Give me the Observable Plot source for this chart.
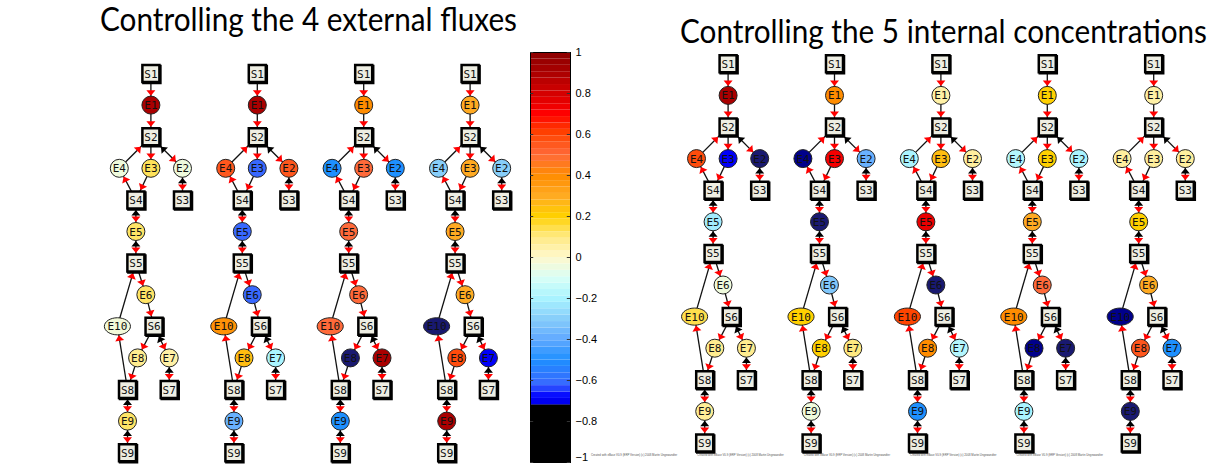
<!DOCTYPE html>
<html><head><meta charset="utf-8">
<script src="https://cdn.jsdelivr.net/npm/d3@7"></script>
<script src="https://cdn.jsdelivr.net/npm/@observablehq/plot@0.6"></script>
<style>
body{margin:0;background:#fff;width:1215px;height:464px;overflow:hidden;position:relative}
.panel{position:absolute;top:0}
.panel svg{display:block;overflow:visible}
.tbox{position:relative}
.title{position:absolute;white-space:nowrap;font-family:Lato,"DejaVu Sans",sans-serif;font-size:33px;line-height:1;color:#000;transform-origin:0 0}
</style></head><body>
<div id="left" class="panel" style="left:0;width:525px"></div>
<div id="bar" class="panel" style="left:520px;width:80px"></div>
<div id="right" class="panel" style="left:580px;width:635px"></div>
<script>
// ---------- data ----------
const enzymes = ["E1","E2","E3","E4","E5","E6","E7","E8","E9","E10"];
const metabolites = ["S1","S2","S3","S4","S5","S6","S7","S8","S9"];
// control coefficients, ordered E1..E10
const fluxControl1 = [0.9, -0.04, 0.13, -0.04, 0.12, 0.12, 0.05, 0.08, 0.12, -0.03];
const fluxControl2 = [0.9, 0.55, -0.62, 0.55, -0.62, -0.62, -0.2, 0.25, -0.38, 0.38];
const fluxControl3 = [0.4, -0.5, 0.5, -0.5, 0.5, 0.5, 0.9, -0.8, -0.5, 0.5];
const fluxControl4 = [0.3, -0.3, 0.3, -0.3, 0.3, 0.3, -0.69, 0.58, 0.9, -0.8];
const concControl1 = [0.9, -0.8, -0.69, 0.58, -0.22, -0.04, 0.08, 0.08, 0.07, 0.14];
const concControl2 = [0.4, -0.38, 0.72, -0.76, -0.8, -0.32, 0.1, 0.2, -0.04, 0.2];
const concControl3 = [0.05, 0.06, 0.25, -0.2, 0.75, -0.8, -0.18, 0.4, -0.5, 0.6];
const concControl4 = [0.2, -0.2, 0.2, -0.18, 0.3, 0.5, -0.8, -0.76, -0.2, 0.4];
const concControl5 = [0.05, 0.06, 0.06, 0.06, 0.2, 0.3, -0.5, 0.55, -0.8, -0.76];
// reactions: [from, to, reversible]
const edges = [
  ["S1","E1",false],["E1","S2",false],["S2","E3",false],["E3","S4",false],
  ["S4","E4",false],["E4","S2",false],["S2","E2",true],["E2","S3",true],
  ["S4","E5",true],["E5","S5",true],["S5","E6",false],["E6","S6",false],
  ["S8","E10",false],["E10","S5",false],["S6","E8",false],["E8","S8",false],
  ["S6","E7",true],["E7","S7",true],["S8","E9",true],["E9","S9",true]
];
const colorbarTicks = [1, 0.8, 0.6, 0.4, 0.2, 0, -0.2, -0.4, -0.6, -0.8, -1];
const leftTitle = "Controlling the 4 external fluxes";
const rightTitle = "Controlling the 5 internal concentrations";
const footerText = "Created with eBase V0.9 (ERP Version) (c) 2008 Martin Ungewandter";

// ---------- layout & style ----------
const nodeLayout = {S1:[0,0],E1:[0,1],S2:[0,2],E4:[-1,3],E3:[0,3],E2:[1,3],S4:[-0.475,4],S3:[1,4],
  E5:[-0.475,5],S5:[-0.475,6],E6:[-0.16,7],E10:[-1.06,8],S6:[0.1,8],E8:[-0.42,9],E7:[0.58,9],
  S8:[-0.74,10],S7:[0.58,10],E9:[-0.74,11],S9:[-0.74,12]};
const unit = 31.6;              // px per layout unit
const netSpacing = 106.4 / unit;
const clipLevel = -0.72;
const colorStops = [-1,-0.8,-0.76,-0.72,-0.68,-0.62,-0.5,-0.4,-0.3,-0.2,-0.1,0,0.1,0.2,0.3,0.4,0.5,0.6,0.7,0.8,0.9,1];
const colorRamp = ["#191970","#191970","#00008b","#0000e6","#0000ff","#3868ff","#1e90ff","#62aaff","#87cefa","#aaf4ff","#d8fff6","#fff8cc","#ffe980","#ffd000","#ffaa22","#ff8c00","#ff6a3a","#ff4500","#ff0000","#d40000","#aa0000","#8b0000"];
const colorSpec = {type:"linear", domain: colorStops, range: colorRamp, interpolate: "rgb", clamp: true};

const headSymbol = {draw(ctx, size){ const W = 9, L = 5.5; ctx.moveTo(0,0); ctx.lineTo(-W/2, L); ctx.lineTo(W/2, L); ctx.closePath(); }};
const ellipseSymbol = {draw(ctx, size){
  const r = Math.sqrt(size/Math.PI), rx = r*1.45, ry = r*0.95, k = 0.5523;
  ctx.moveTo(rx,0);
  ctx.bezierCurveTo(rx, ry*k, rx*k, ry, 0, ry);
  ctx.bezierCurveTo(-rx*k, ry, -rx, ry*k, -rx, 0);
  ctx.bezierCurveTo(-rx, -ry*k, -rx*k, -ry, 0, -ry);
  ctx.bezierCurveTo(rx*k, -ry, rx, -ry*k, rx, 0);
  ctx.closePath();
}};

function boundary(id, ux, uy){
  if (id[0] === "S") { const h = 10/unit; return Math.min(h/Math.abs(ux || 1e-9), h/Math.abs(uy || 1e-9)); }
  if (id === "E10") { const rx = 13.3/unit, ry = 9/unit; return 1/Math.sqrt((ux/rx)**2 + (uy/ry)**2); }
  return 9.4/unit;
}

function networkPlot({series, width, height, firstCenter, levelTop, footer}){
  const nodes = [], links = [], redHeads = [], blackHeads = [], footers = [];
  series.forEach((vals, i) => {
    const cx = i*netSpacing;
    const pos = id => [cx + nodeLayout[id][0], nodeLayout[id][1]];
    for (const id of [...metabolites, ...enzymes]) {
      const [x, y] = pos(id);
      const kind = id[0] === "S" ? "S" : (id === "E10" ? "ellipse" : "circle");
      nodes.push({id, x, y, kind, value: kind === "S" ? null : vals[enzymes.indexOf(id)]});
    }
    for (const [s, t, rev] of edges) {
      const [x1, y1] = pos(s), [x2, y2] = pos(t);
      const len = Math.hypot(x2-x1, y2-y1), ux = (x2-x1)/len, uy = (y2-y1)/len;
      links.push({x1, y1, x2, y2});
      const bt = boundary(t, ux, uy);
      redHeads.push({x: x2 - ux*bt, y: y2 - uy*bt, angle: Math.atan2(ux, -uy)*180/Math.PI});
      if (rev) {
        const bs = boundary(s, ux, uy);
        blackHeads.push({x: x1 + ux*bs, y: y1 + uy*bs, angle: Math.atan2(-ux, uy)*180/Math.PI});
      }
    }
    footers.push({x: cx - 94/unit});
  });
  const S = nodes.filter(d => d.kind === "S"), C = nodes.filter(d => d.kind === "circle"), El = nodes.filter(d => d.kind === "ellipse");
  const marks = [
    Plot.link(links, {x1:"x1", y1:"y1", x2:"x2", y2:"y2", stroke:"#111", strokeWidth:1.3}),
    Plot.dot(redHeads, {x:"x", y:"y", rotate:"angle", symbol: headSymbol, r: 4, fill:"#ff0000", stroke:"none"}),
    Plot.dot(blackHeads, {x:"x", y:"y", rotate:"angle", symbol: headSymbol, r: 4, fill:"#000", stroke:"none"}),
    Plot.dot(S, {x:"x", y:"y", symbol:"square", r: 9.6, fill:"#000", stroke:"#000", strokeWidth:2.5, dx:1, dy:1}),
    Plot.dot(S, {x:"x", y:"y", symbol:"square", r: 9.6, fill:"#eeeee3", stroke:"#000", strokeWidth:2.5}),
    Plot.dot(C, {x:"x", y:"y", r: 9, fill:"value", stroke:"#222", strokeWidth:1}),
    Plot.dot(El, {x:"x", y:"y", r: 9, symbol: ellipseSymbol, fill:"value", stroke:"#222", strokeWidth:1}),
    Plot.text(nodes, {x:"x", y:"y", text:"id", fontFamily:"DejaVu Sans Mono", fontSize:11, fill:"#111", dy:0.5})
  ];
  if (footer) marks.push(Plot.text(footers, {x:"x", frameAnchor:"bottom", dy:-9, text: () => footerText, fontSize:2.8, fill:"#555", fontFamily:"Liberation Sans"}));
  return Plot.plot({
    width, height, margin:0,
    x:{domain:[-firstCenter/unit, (width-firstCenter)/unit], range:[0,width], axis:null},
    y:{domain:[0,12], range:[levelTop, levelTop + 12*unit], axis:null},
    color: colorSpec,
    marks
  });
}

function titled(container, text, titleHeight, titleLeft, titleTop, targetWidth, plot){
  const box = document.createElement("div");
  box.className = "tbox"; box.style.height = titleHeight + "px";
  const span = document.createElement("span");
  span.className = "title"; span.textContent = text;
  span.style.left = titleLeft + "px"; span.style.top = titleTop + "px";
  box.appendChild(span);
  container.appendChild(box);
  container.appendChild(plot);
  const w = span.getBoundingClientRect().width;
  span.style.transform = `scaleX(${targetWidth / w})`;
}

titled(document.getElementById("left"), leftTitle, 42, 100, 2, 417,
  networkPlot({series:[fluxControl1, fluxControl2, fluxControl3, fluxControl4], width:525, height:422, firstCenter:150.4, levelTop:31, footer:false}));
titled(document.getElementById("right"), rightTitle, 52, 100, 14, 527,
  networkPlot({series:[concControl1, concControl2, concControl3, concControl4, concControl5], width:635, height:412, firstCenter:147.6, levelTop:11.3, footer:true}));

// ---------- colorbar ----------
const nBands = 64;
const bands = d3.range(nBands).map(k => { const lo = -1 + 2*k/nBands, hi = lo + 2/nBands; return {lo, hi, mid:(lo+hi)/2}; });
const fmt = d => d === 0 ? "0" : String(d).replace("-", "\u2212");
const innerTicks = colorbarTicks.filter(d => d > -1);
const bottomTick = colorbarTicks.filter(d => d === -1);
const bar = Plot.plot({
  width:80, height:464, marginTop:52, marginBottom:2, marginLeft:10, marginRight:30,
  x:{domain:[0,1], axis:null}, y:{domain:[-1,1], axis:null},
  color: colorSpec,
  marks:[
    Plot.rect(bands, {x1:() => 0, x2:() => 1, y1:"lo", y2:"hi", fill:"mid"}),
    Plot.rect([{lo:-1, hi:clipLevel}], {x1:() => 0, x2:() => 1, y1:"lo", y2:"hi", fill:"#000"}),
    Plot.frame({stroke:"#000", strokeWidth:1}),
    Plot.ruleY(colorbarTicks, {y: d => d, x1:() => 0, x2:() => 0.08, stroke:"#333"}),
    Plot.ruleY(colorbarTicks, {y: d => d, x1:() => 0.92, x2:() => 1, stroke:"#333"}),
    Plot.text(innerTicks, {y: d => d, x:() => 1, text: fmt, dx:5, textAnchor:"start", fontSize:11, fontFamily:"Liberation Sans", fill:"#000"}),
    Plot.text(bottomTick, {y: d => d, x:() => 1, text: fmt, dx:5, dy:-2, lineAnchor:"bottom", textAnchor:"start", fontSize:11, fontFamily:"Liberation Sans", fill:"#000"})
  ]
});
document.getElementById("bar").appendChild(bar);
</script>
</body></html>
